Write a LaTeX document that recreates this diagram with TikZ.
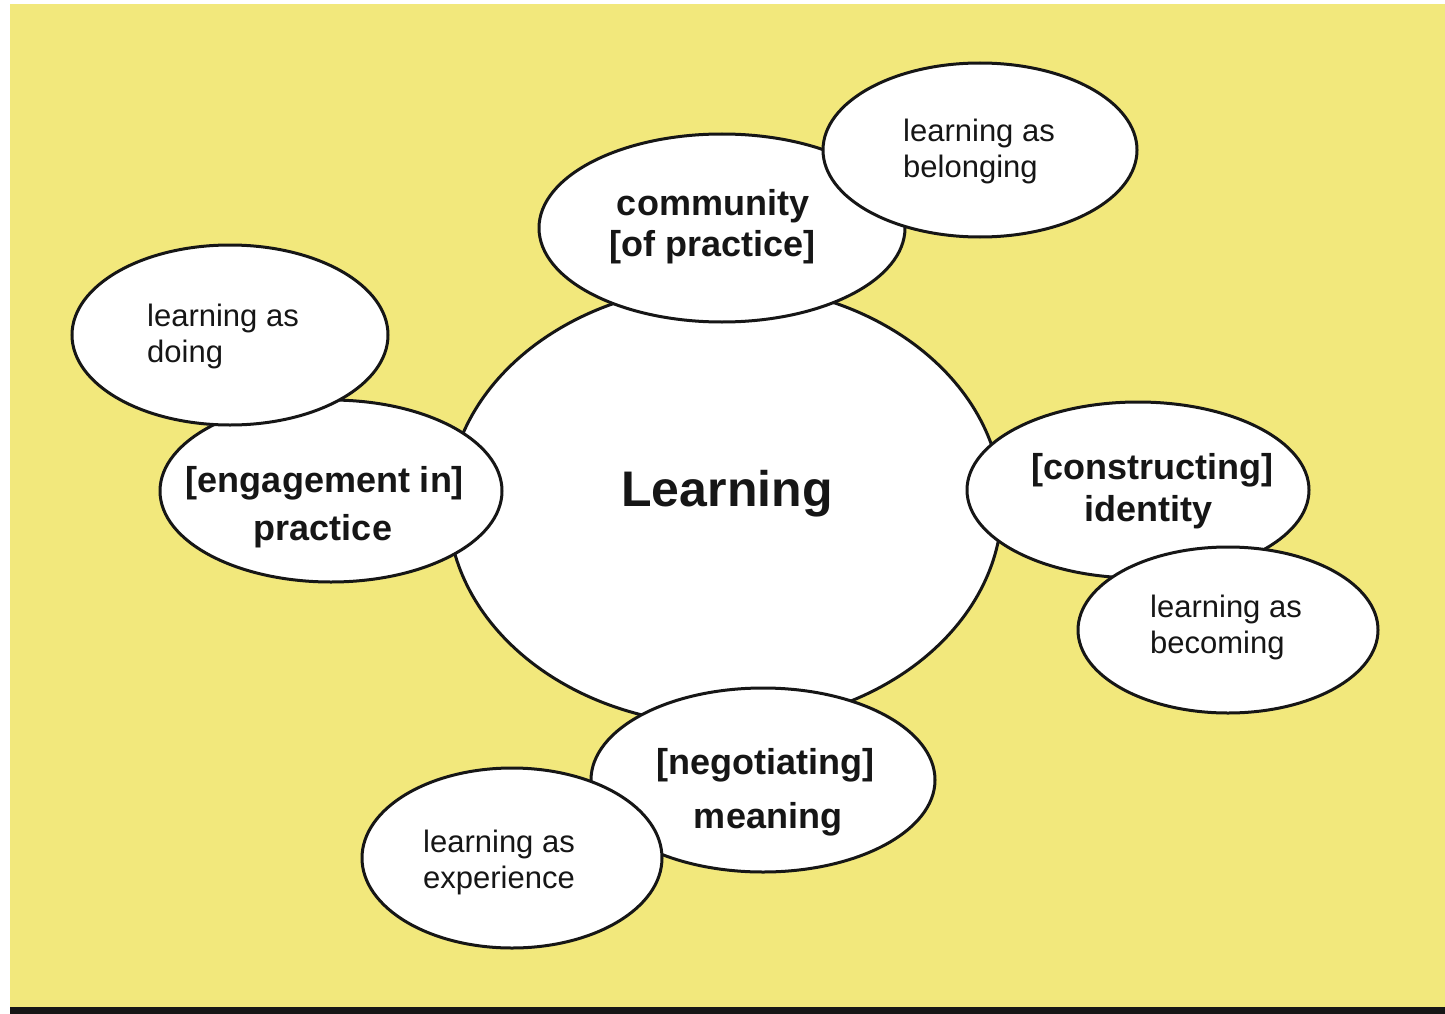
\documentclass[tikz,border=0pt]{standalone}
\usepackage{fontspec}
\setmainfont{Liberation Sans}
\usetikzlibrary{shapes.geometric}
\definecolor{bgyellow}{RGB}{242,232,124}
\definecolor{ink}{RGB}{22,22,22}
\begin{document}
\begin{tikzpicture}[x=1pt,y=-1pt,
  blob/.style={ellipse, draw=ink, line width=3pt, fill=white, inner sep=0pt},
  smalltxt/.style={font=\fontsize{31}{36}\selectfont, text=ink, anchor=mid west, inner sep=0pt},
  boldtxt/.style={font=\bfseries\fontsize{36}{43}\selectfont, text=ink, anchor=mid, inner sep=0pt},
  bigtxt/.style={font=\bfseries\fontsize{50}{60}\selectfont, text=ink, anchor=mid, inner sep=0pt}]
\useasboundingbox (0,0) rectangle (1445,1014);
\fill[white] (0,0) rectangle (1445,1014);
\fill[bgyellow] (10,4) rectangle (1445,1007);
\fill[ink] (10,1007) rectangle (1445,1014);
% central ellipse
\node[blob, minimum width=554pt, minimum height=440pt] (learn) at (725,505) {};
% medium ellipses
\node[blob, minimum width=366pt, minimum height=188pt] (comm) at (722,228) {};
\node[blob, minimum width=342pt, minimum height=182pt] (eng) at (331,491) {};
\node[blob, minimum width=342pt, minimum height=176pt] (ident) at (1138,490) {};
\node[blob, minimum width=344pt, minimum height=184pt] (nego) at (763,780) {};
% small ellipses
\node[blob, minimum width=314pt, minimum height=174pt] (belong) at (980,150) {};
\node[blob, minimum width=316pt, minimum height=180pt] (doing) at (230,335) {};
\node[blob, minimum width=300pt, minimum height=166pt] (becom) at (1228,630) {};
\node[blob, minimum width=300pt, minimum height=180pt] (exper) at (512,858) {};
% texts
\node[bigtxt] (tlearn) at (727,504) {Learning};
\node[boldtxt] (tcomm1) at (713,213) {community};
\node[boldtxt] (tcomm2) at (713,254) {[of practice]};
\node[boldtxt] (teng1) at (325,490) {[engagement in]};
\node[boldtxt] (teng2) at (323,538) {practice};
\node[boldtxt] (tid1) at (1152,477) {[constructing]};
\node[boldtxt] (tid2) at (1148,519) {identity};
\node[boldtxt] (tneg1) at (765,772) {[negotiating]};
\node[boldtxt] (tneg2) at (768,826) {meaning};
\node[smalltxt] (tbel1) at (903,139) {learning as};
\node[smalltxt] (tbel2) at (903,175) {belonging};
\node[smalltxt] (tdo1) at (147,324) {learning as};
\node[smalltxt] (tdo2) at (147,360) {doing};
\node[smalltxt] (tbec1) at (1150,615) {learning as};
\node[smalltxt] (tbec2) at (1150,651) {becoming};
\node[smalltxt] (tex1) at (423,850) {learning as};
\node[smalltxt] (tex2) at (423,886) {experience};
\end{tikzpicture}
\end{document}
